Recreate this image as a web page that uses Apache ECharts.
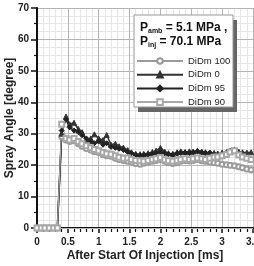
<!DOCTYPE html>
<html>
<head>
<meta charset="utf-8">
<script src="https://cdn.jsdelivr.net/npm/echarts@6/dist/echarts.min.js"></script>
<style>
  html, body { margin: 0; padding: 0; background: #fff; }
  #chart { width: 254px; height: 266px; }
</style>
</head>
<body>
<div id="chart"></div>
<script>
const FONT = '"Liberation Sans", Arial, sans-serif'

// time after start of injection [ms]
const TIME = [0, 0.07, 0.13, 0.2, 0.27, 0.33, 0.4, 0.47, 0.53, 0.6, 0.67, 0.73, 0.8, 0.87, 0.93, 1.0,
  1.07, 1.13, 1.2, 1.27, 1.33, 1.4, 1.47, 1.53, 1.6, 1.67, 1.73, 1.8, 1.87, 1.93, 2.0,
  2.07, 2.13, 2.2, 2.27, 2.33, 2.4, 2.47, 2.53, 2.6, 2.67, 2.73, 2.8, 2.87, 2.93, 3.0,
  3.07, 3.13, 3.2, 3.27, 3.33, 3.4, 3.47]

// spray angle [degree]
const DIDM_100 = [0, 0, 0, 0, 0, 0, 29, 28, 27.5, 27.8, 26.8, 26, 25.3, 24.8, 24.3, 24, 23.3, 23, 22.8, 22.2,
  21.8, 21.5, 21.2, 21, 20.5, 20.3, 20.6, 20.9, 21.2, 21.5, 21.8, 21.2, 20.8, 20.5, 20.8, 21.2,
  21.5, 21.3, 21.5, 21.8, 21.4, 21.2, 21, 20.8, 20.6, 20.3, 20.1, 20, 19.8, 19.5, 19.2, 18.8, 18.5]
const DIDM_0 = [0, 0, 0, 0, 0, 0, 30, 35.5, 33, 33.5, 31.5, 30.5, 28, 28.5, 29.8, 28.5, 28, 29.6, 26.5, 26.8,
  26, 25.6, 24.8, 24.1, 23.6, 23.5, 23.6, 23.8, 24.2, 24.6, 25.5, 24.3, 23.8, 23.6, 24.1, 24.4,
  24.2, 24.4, 24.3, 24.6, 24.3, 24.1, 23.8, 23.9, 23.7, 24.0, 24.2, 24.6, 25.0, 24.3, 24.1, 24.0, 24.1]
const DIDM_95 = [0, 0, 0, 0, 0, 0, 31, 34.5, 32, 31, 30.5, 29.5, 28.5, 27.5, 27, 27.5, 26.5, 27, 25.8, 25.5,
  25.2, 24.8, 24.2, 23.8, 23.2, 23, 23.2, 23.3, 23.6, 23.9, 24.2, 23.8, 23.5, 23.3, 23.6, 23.9,
  24, 23.8, 24.1, 24.4, 24.1, 23.9, 24.0]
const DIDM_90 = [0, 0, 0, 0, 0, 0, 33, 28.5, 28, 28.5, 27.5, 26.8, 26.2, 25.5, 25, 24.6, 24, 23.6, 23.5, 23,
  22.5, 22.2, 22.3, 21.8, 21.5, 21.4, 21.2, 21.5, 21.8, 22, 22.4, 21.7, 21.4, 21.2, 21.5, 21.8,
  22, 21.8, 22, 22.3, 22, 21.8, 22.2, 22.5, 22.6, 23, 23.4, 24.2, 24.6, 23.2, 22.6, 22.2, 21.8]

const SERIES = [
  { name: 'DiDm 100', values: DIDM_100, symbol: 'emptyCircle', color: '#9a9a9a', width: 1.2 },
  { name: 'DiDm 0', values: DIDM_0, symbol: 'triangle', color: '#333', width: 1.6 },
  { name: 'DiDm 95', values: DIDM_95, symbol: 'diamond', color: '#222', width: 1.6 },
  { name: 'DiDm 90', values: DIDM_90, symbol: 'emptyRect', color: '#a8a8a8', width: 1.2 },
]

const chart = echarts.init(document.getElementById('chart'), null, { renderer: 'canvas' })

const labelStyle = { color: '#222', fontSize: 10, fontWeight: 'bold', fontFamily: FONT }

chart.setOption({
  animation: false,
  backgroundColor: '#fff',
  grid: { left: 37, right: 1, top: 8, bottom: 38, outerBoundsMode: 'none', containLabel: false },
  xAxis: {
    type: 'value', min: 0, max: 3.5, interval: 0.5,
    name: 'After Start Of Injection [ms]', nameLocation: 'middle', nameGap: 22, nameMoveOverlap: false,
    nameTextStyle: { color: '#222', fontSize: 12, fontWeight: 'bold', fontFamily: FONT },
    axisLine: { lineStyle: { color: '#111', width: 2 } },
    axisTick: { length: 5, lineStyle: { color: '#111', width: 1.5 } },
    minorTick: { show: true, splitNumber: 5, length: 4, lineStyle: { color: '#111', width: 1.2 } },
    axisLabel: Object.assign({ margin: 9, formatter: v => String(v) }, labelStyle),
    splitLine: { show: true, lineStyle: { color: '#b5b5b5', width: 1 } },
    minorSplitLine: { show: true, lineStyle: { color: '#e6e6e6', width: 1 } },
  },
  yAxis: [{
    type: 'value', min: 0, max: 70, interval: 10, z: 1,
    name: 'Spray Angle [degree]', nameLocation: 'middle', nameGap: 21, nameMoveOverlap: false,
    nameTextStyle: { color: '#222', fontSize: 12, fontWeight: 'bold', fontFamily: FONT },
    axisLine: { show: true, lineStyle: { color: '#111', width: 2 } },
    axisTick: { show: true, length: 6, lineStyle: { color: '#111', width: 1.5 } },
    minorTick: { show: true, splitNumber: 2, length: 3, lineStyle: { color: '#111', width: 1.2 } },
    axisLabel: Object.assign({ margin: 8 }, labelStyle),
    splitLine: { show: true, lineStyle: { color: '#b5b5b5', width: 1 } },
  }, {
    // fine grid only
    type: 'value', min: 0, max: 70, interval: 2.5, position: 'left',
    axisLine: { show: false }, axisTick: { show: false }, axisLabel: { show: false },
    splitLine: { show: true, lineStyle: { color: '#e6e6e6', width: 1 } },
  }],
  legend: {
    orient: 'vertical', left: 136, top: 56, z: 10, padding: 0,
    itemWidth: 46, itemHeight: 7, itemGap: 3.7,
    textStyle: { color: '#222', fontSize: 9.5, fontFamily: FONT },
    data: SERIES.map(s => s.name),
  },
  graphic: [
    { type: 'rect', z: 3, shape: { x: 138, y: 20, width: 99, height: 92 }, style: { fill: '#666' } },
    { type: 'rect', z: 4, shape: { x: 134, y: 15, width: 99, height: 92 }, style: { fill: '#fff', stroke: '#999', lineWidth: 1 } },
    {
      type: 'text', z: 5, left: 140, top: 22,
      style: {
        text: '{p|P}{s|amb}{p| = 5.1 MPa ,}',
        rich: {
          p: { fontSize: 12, fontWeight: 'bold', fontFamily: FONT, fill: '#111' },
          s: { fontSize: 7, fontWeight: 'bold', fontFamily: FONT, fill: '#111', padding: [7, 0, 0, 0] },
        },
      },
    },
    {
      type: 'text', z: 5, left: 140, top: 36,
      style: {
        text: '{p|P}{s|inj}{p| = 70.1 MPa}',
        rich: {
          p: { fontSize: 12, fontWeight: 'bold', fontFamily: FONT, fill: '#111' },
          s: { fontSize: 7, fontWeight: 'bold', fontFamily: FONT, fill: '#111', padding: [7, 0, 0, 0] },
        },
      },
    },
  ],
  series: SERIES.map(s => ({
    name: s.name,
    type: 'line',
    yAxisIndex: 0,
    data: s.values.map((v, i) => [TIME[i], v]),
    symbol: s.symbol,
    symbolSize: 5,
    showAllSymbol: true,
    itemStyle: { color: s.color, borderColor: s.color, borderWidth: 1 },
    lineStyle: { color: s.color, width: s.width },
  })),
})
</script>
</body>
</html>
